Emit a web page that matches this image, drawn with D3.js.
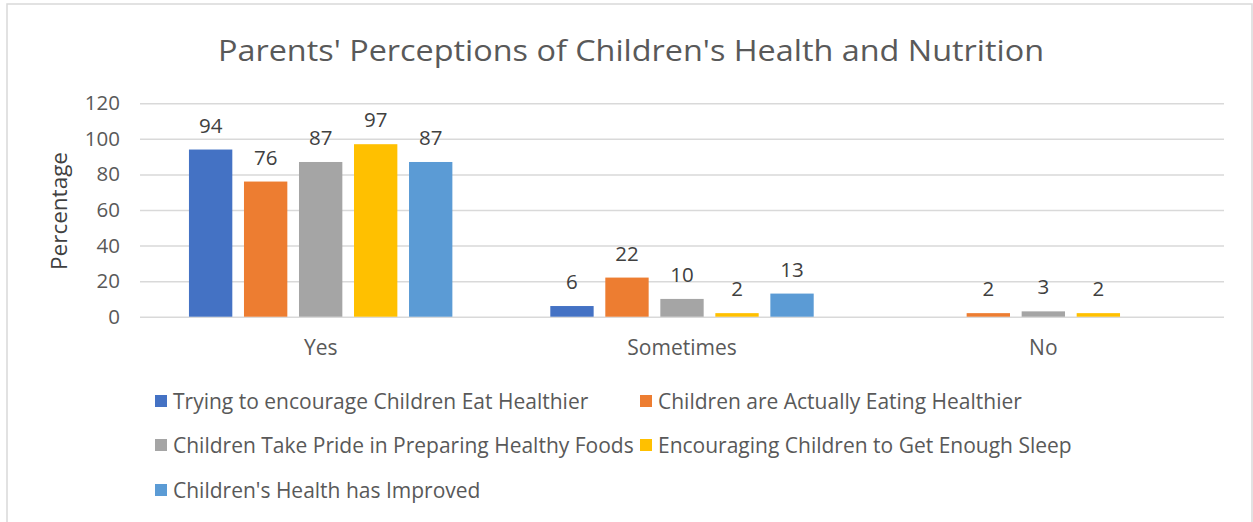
<!DOCTYPE html>
<html>
<head>
<meta charset="utf-8">
<script src="https://cdn.jsdelivr.net/npm/d3@7"></script>
<style>
  html, body { margin: 0; padding: 0; background: #fff; }
  svg { display: block; font-family: "Open Sans", sans-serif; }
</style>
</head>
<body>
<svg id="chart" width="1253" height="522"></svg>
<script>
// Response categories along the x axis
const categories = ["Yes", "Sometimes", "No"];

// Survey statements (one bar series each)
const seriesNames = [
  "Trying to encourage Children Eat Healthier",
  "Children are Actually Eating Healthier",
  "Children Take Pride in Preparing Healthy Foods",
  "Encouraging Children to Get Enough Sleep",
  "Children's Health has Improved"
];

// Percentages per category (Yes, Sometimes, No); null = no response shown
const tryingEncourage = [94, 6, null];
const actuallyEating  = [76, 22, 2];
const takePride       = [87, 10, 3];
const enoughSleep     = [97, 2, 2];
const healthImproved  = [87, 13, null];

const seriesValues = [tryingEncourage, actuallyEating, takePride, enoughSleep, healthImproved];
const seriesColors = ["#4472C4", "#ED7D31", "#A5A5A5", "#FFC000", "#5B9BD5"];

const yTicks = [0, 20, 40, 60, 80, 100, 120];

const FONT = "'Open Sans', sans-serif";
const svg = d3.select("#chart");
const W = 1253, H = 522;

// chart frame
svg.append("rect")
  .attr("x", 7).attr("y", 4)
  .attr("width", W - 8).attr("height", H + 10)
  .attr("fill", "#fff")
  .attr("stroke", "#D9D9D9").attr("stroke-width", 1.5);

const plot = { left: 140, right: 1224, top: 103.3, bottom: 316.7 };

const x0 = d3.scaleBand()
  .domain(categories)
  .range([plot.left, plot.right])
  .paddingInner(0).paddingOuter(0);

const x1 = d3.scaleBand()
  .domain(d3.range(seriesNames.length))
  .range([0, x0.bandwidth()])
  .paddingInner(0.212)
  .paddingOuter(0.89);

const y = d3.scaleLinear().domain([0, 120]).range([plot.bottom, plot.top]);

// title
svg.append("text")
  .attr("x", 631).attr("y", 61)
  .attr("text-anchor", "middle")
  .attr("font-size", 30)
  .attr("fill", "#595959")
  .attr("textLength", 826)
  .attr("lengthAdjust", "spacingAndGlyphs")
  .text("Parents' Perceptions of Children's Health and Nutrition");

// gridlines + y tick labels
const yAxis = d3.axisLeft(y)
  .tickValues(yTicks)
  .tickSize(-(plot.right - plot.left))
  .tickPadding(20);

const gy = svg.append("g")
  .attr("transform", `translate(${plot.left},0)`)
  .call(yAxis);
gy.select(".domain").remove();
gy.selectAll(".tick line").attr("stroke", "#D9D9D9").attr("stroke-width", 1.5);
gy.selectAll(".tick text")
  .attr("font-size", 20.5)
  .attr("font-family", FONT)
  .attr("fill", "#595959");

// y axis title
svg.append("text")
  .attr("transform", "translate(67,211) rotate(-90)")
  .attr("text-anchor", "middle")
  .attr("font-size", 22.5)
  .attr("fill", "#404040")
  .text("Percentage");

// bars
const groups = svg.append("g").selectAll("g")
  .data(categories)
  .join("g")
  .attr("transform", d => `translate(${x0(d)},0)`);

groups.each(function(cat, ci) {
  const g = d3.select(this);
  const rows = seriesValues
    .map((vals, si) => ({ si, v: vals[ci] }))
    .filter(d => d.v != null);

  g.selectAll("rect")
    .data(rows)
    .join("rect")
    .attr("x", d => x1(d.si))
    .attr("width", x1.bandwidth())
    .attr("y", d => y(d.v))
    .attr("height", d => y(0) - y(d.v))
    .attr("fill", d => seriesColors[d.si]);

  g.selectAll("text.val")
    .data(rows)
    .join("text")
    .attr("class", "val")
    .attr("x", d => x1(d.si) + x1.bandwidth() / 2)
    .attr("y", d => y(d.v) - 17)
    .attr("text-anchor", "middle")
    .attr("font-size", 20.5)
    .attr("fill", "#404040")
    .text(d => d.v);
});

// category axis labels
const xAxis = d3.axisBottom(x0).tickSize(0).tickPadding(23);
const gx = svg.append("g")
  .attr("transform", `translate(0,${plot.bottom})`)
  .call(xAxis);
gx.select(".domain").remove();
gx.selectAll(".tick text")
  .attr("font-size", 21)
  .attr("font-family", FONT)
  .attr("fill", "#595959");

// legend
const legendPos = [
  { x: 155, y: 401 }, { x: 640, y: 401 },
  { x: 155, y: 445 }, { x: 640, y: 445 },
  { x: 155, y: 490 }
];
const legend = svg.append("g").selectAll("g")
  .data(seriesNames)
  .join("g")
  .attr("transform", (d, i) => `translate(${legendPos[i].x},${legendPos[i].y})`);

legend.append("rect")
  .attr("x", 0).attr("y", -6)
  .attr("width", 12).attr("height", 12)
  .attr("fill", (d, i) => seriesColors[i]);

legend.append("text")
  .attr("x", 18).attr("y", 7.5)
  .attr("font-size", 21)
  .attr("fill", "#595959")
  .text(d => d);
</script>
</body>
</html>
